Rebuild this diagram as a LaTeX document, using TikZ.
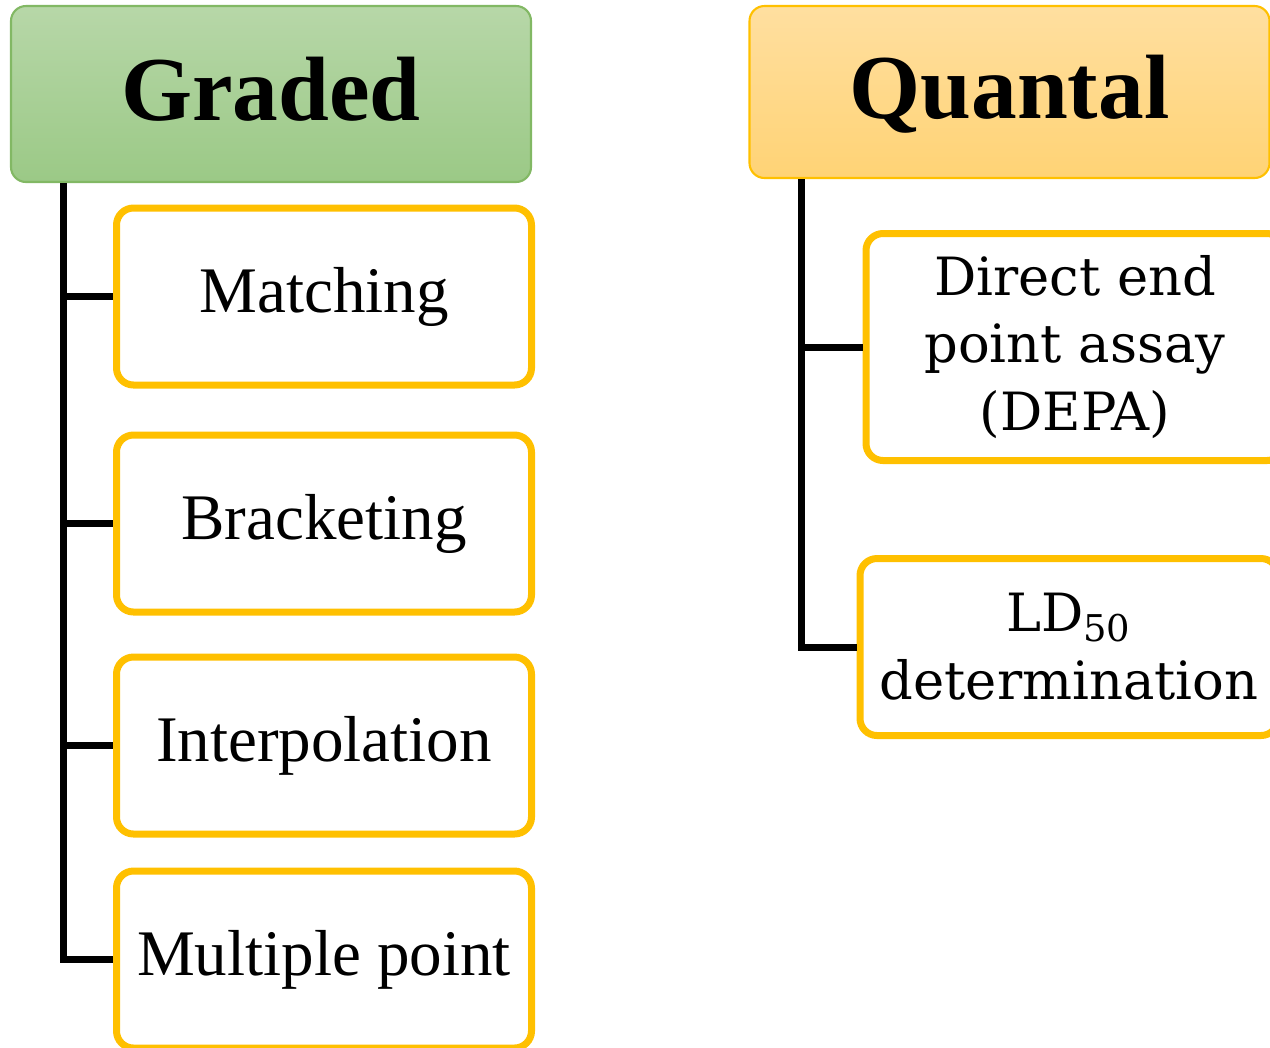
\documentclass[tikz,border=0pt]{standalone}
\usepackage{fontspec}
\setmainfont{Liberation Serif}
\newfontfamily\sidefont{DejaVu Serif}
\usetikzlibrary{positioning}
\definecolor{gradedtop}{RGB}{183,215,168}
\definecolor{gradedbot}{RGB}{155,201,134}
\definecolor{gradedline}{RGB}{130,184,100}
\definecolor{quantaltop}{RGB}{255,223,160}
\definecolor{quantalbot}{RGB}{255,211,117}
\definecolor{boxline}{RGB}{255,192,0}
\tikzset{
    %Define style for the two heads
    head/.style={
           rectangle,
           rounded corners=0.15cm,
           line width=0.6pt,
           minimum width=5.2cm,
           minimum height=1.76cm,
           text height=19.5pt,
           text depth=4.7pt,
           font=\fontsize{26}{30}\selectfont\bfseries,
           text centered},
    gradedhead/.style={
           head,
           draw=gradedline,
           top color=gradedtop,
           bottom color=gradedbot},
    quantalhead/.style={
           head,
           draw=boxline,
           minimum height=1.72cm,
           top color=quantaltop,
           bottom color=quantalbot},
    %Define style for boxes
    method/.style={
           rectangle,
           rounded corners=0.17cm,
           draw=boxline, line width=0.07cm,
           fill=white,
           minimum width=4.15cm,
           minimum height=1.77cm,
           font=\fontsize{18.5}{22}\selectfont,
           text centered},
    sidemethod/.style={
           method,
           align=center,
           minimum width=4.18cm,
           font=\sidefont\fontsize{15}{19.3}\selectfont},
    % Define line style
    trunk/.style={
           draw=black,
           line width=0.07cm}
}
\begin{document}
\begin{tikzpicture}
\useasboundingbox (0,0) rectangle (12.7,-10.47);
\clip (0,0) rectangle (12.7,-10.47);
\node[gradedhead](gr) at (2.71,-0.94){Graded};
\node[quantalhead](qu) at (10.095,-0.92){Quantal};
\node[method](m1) at (3.24,-2.965){Matching};
\node[method, below=0.43cm of m1](m2){Bracketing};
\node[method, below=0.38cm of m2](m3){Interpolation};
\node[method, below=0.30cm of m3](m4){Multiple point};
\node[sidemethod, minimum height=2.27cm](q1) at (10.75,-3.47){Direct end\\point assay\\(DEPA)};
\node[sidemethod, below=0.91cm of q1, xshift=-0.06cm](q2){LD\textsubscript{50}\\determination};
\coordinate (gt) at ([xshift=-2.08cm]gr.south);
\coordinate (qt) at ([xshift=-2.085cm]qu.south);
\draw[trunk] (gt) |- (m4.west);
\foreach \n in {m1,m2,m3}
    \draw[trunk] (gt |- \n.west) -- (\n.west);
\draw[trunk] (qt) |- (q2.west);
\draw[trunk] (qt |- q1.west) -- (q1.west);
\end{tikzpicture}
\end{document}
